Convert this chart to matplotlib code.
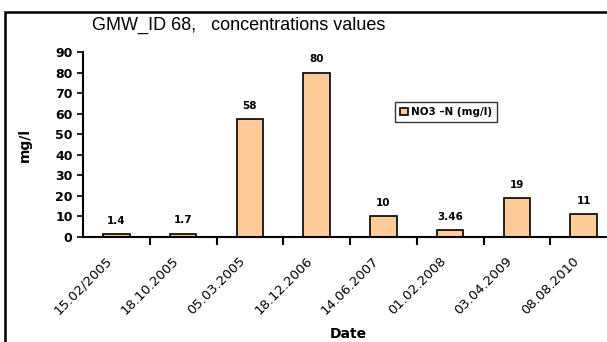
import matplotlib
matplotlib.use("Agg")
import matplotlib.pyplot as plt
import matplotlib.transforms as mtransforms
from matplotlib.patches import Rectangle

dates = ["15.02/2005", "18.10.2005", "05.03.2005", "18.12.2006",
         "14.06.2007", "01.02.2008", "03.04.2009", "08.08.2010"]
values = [1.4, 1.7, 57.5, 80, 10, 3.46, 19, 11]
labels = ["1.4", "1.7", "58", "80", "10", "3.46", "19", "11"]
yticks = [0, 10, 20, 30, 40, 50, 60, 70, 80, 90]

plt.rcParams['font.family'] = ['DejaVu Sans']

W, H = 607, 342
fig = plt.figure(figsize=(W / 100, H / 100), dpi=100)
fig.patches.append(Rectangle((5 / W, -0.1), 1.2, 1 - 12 / H + 0.1, transform=fig.transFigure,
                             fill=False, edgecolor='black', linewidth=1.8))

ax = fig.add_axes([83 / W, 1 - 237 / H, 534 / W, (237 - 52) / H])
x = list(range(len(dates)))
bars = ax.bar(x, values, width=0.4, color='#FFCC99', edgecolor='black', linewidth=1.2,
              label='NO3 –N (mg/l)')
for xi, v, lab in zip(x, values, labels):
    ax.text(xi, v + 4, lab, ha='center', va='bottom', fontsize=7.5, fontweight='bold')

ax.set_xlim(-0.5, len(dates) - 0.5)
ax.set_ylim(0, 90)
ax.set_yticks(yticks)
ax.set_yticklabels([str(t) for t in yticks], fontsize=9, fontweight='bold')
ax.set_xticks([i + 0.5 for i in x[:-1]], minor=False)
ax.set_xticklabels([])
ax.set_xticks(x, minor=True)
ax.set_xticklabels(dates, minor=True, rotation=45, ha='right', rotation_mode='anchor', fontsize=9.5)
ax.tick_params(axis='x', which='minor', length=0, pad=8)
ax.tick_params(axis='x', which='major', length=6, width=1.5, direction='out')
ax.tick_params(axis='y', length=4, width=1.2, direction='out')
offset = mtransforms.ScaledTranslation(-11 / 100, -6 / 100, fig.dpi_scale_trans)
for lbl in ax.get_xticklabels(minor=True):
    lbl.set_transform(lbl.get_transform() + offset)
for s in ['top', 'right']:
    ax.spines[s].set_visible(False)
ax.spines['left'].set_linewidth(1.5)
ax.spines['bottom'].set_linewidth(1.5)

ax.set_ylabel('mg/l', fontsize=10, fontweight='bold')
ax.set_xlabel('Date', fontsize=10, fontweight='bold')
ax.xaxis.set_label_coords((348 - 83) / 534, (237 - 327) / 185)
ax.yaxis.set_label_coords((32 - 83) / 534, 0.5)

fig.text(239 / W, 1 - 25 / H, 'GMW_ID 68,   concentrations values', ha='center', va='center',
         fontsize=13, family=['Liberation Sans'])

leg = ax.legend(loc='upper left', bbox_to_anchor=((395 - 83) / 534, (237 - 102) / 185),
                frameon=True, fancybox=False, edgecolor='black',
                prop={'weight': 'bold', 'size': 7.5}, handlelength=0.7, handleheight=0.7,
                handletextpad=0.3, borderpad=0.5, borderaxespad=0)
leg.get_frame().set_linewidth(1.0)

fig.savefig('out.png', dpi=100)
